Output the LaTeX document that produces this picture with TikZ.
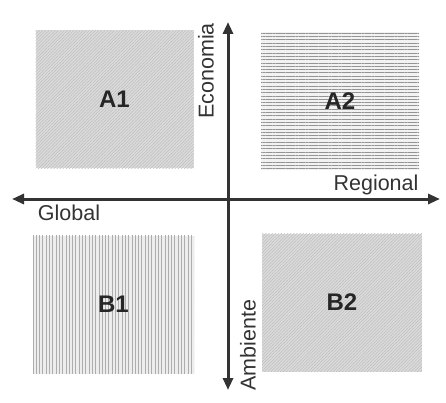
\documentclass[tikz,border=0pt]{standalone}
\usepackage{fontspec}
\setmainfont{Liberation Sans}
\usepackage{tikz}
\usetikzlibrary{arrows.meta,patterns.meta}

\begin{document}
\begin{tikzpicture}[x=1pt,y=-1pt,font=\fontsize{21.5}{23}\selectfont,
  >={Triangle[length=12pt,width=10pt]},
  quad/.style={draw=none,text=black!85,font=\fontsize{24}{26}\selectfont\bfseries,
               minimum width=158pt,minimum height=138pt,inner sep=0pt},
  diag/.style={quad,fill=black!14,postaction={pattern={Lines[angle=45,distance=2.2pt,line width=0.5pt]},
               pattern color=black!26}},
  hor/.style={quad,fill=black!5,postaction={pattern={Lines[angle=0,distance=3.3pt,line width=1pt]},
               pattern color=black!42}},
  ver/.style={quad,fill=black!7,postaction={pattern={Lines[angle=90,distance=3.3pt,line width=1pt]},
               pattern color=black!32}},
  ax/.style={<->,line width=3pt,black!80},
  lab/.style={text=black!80,inner sep=0pt}]
\useasboundingbox (0,0) rectangle (446,403);
% ---------------- quadrants
\node[diag] (a1) at (114.5,99.5) {A1};
\node[hor]  (a2) at (340,101.5) {A2};
\node[ver,minimum width=161pt] (b1) at (113.5,304.5) {B1};
\node[diag,minimum width=160pt] (b2) at (342,302.5) {B2};
% ---------------- axes
\coordinate (w) at (12,199);
\coordinate (e) at (440,199);
\coordinate (n) at (228,22);
\coordinate (s) at (228,390);
\draw[ax] (w) -- (e);
\draw[ax] (s) -- (n);
\node[lab] (reg) at (376,185) {Regional};
\node[lab] (glo) at (69,213) {Global};
\node[lab,rotate=90] (eco) at (206,71) {Economia};
\node[lab,rotate=90] (amb) at (248,345) {Ambiente};
\end{tikzpicture}
\end{document}
